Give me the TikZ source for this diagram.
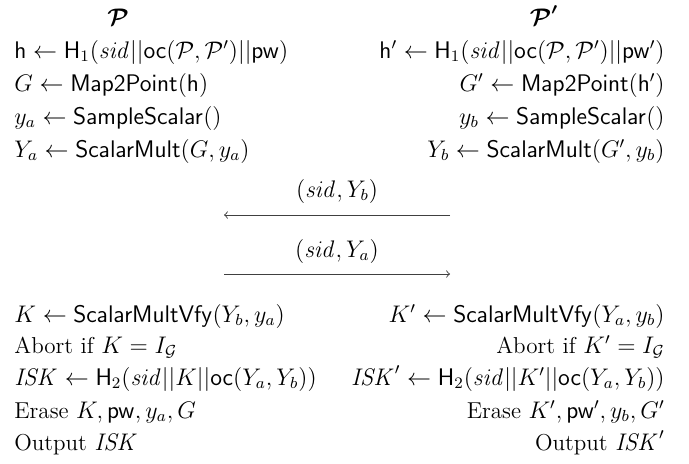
\documentclass[tikz,border=0pt]{standalone}
\usepackage{amsmath,amssymb,bm}
\newcommand{\sfn}[1]{\mathsf{#1}}
\newcommand{\PP}{\mathcal{P}}
\begin{document}
\begin{tikzpicture}[x=0.5pt,y=-0.5pt,
  txt/.style={inner sep=0pt,font=\fontsize{11.5}{14}\selectfont},
  lft/.style={txt,anchor=base west},
  rgt/.style={txt,anchor=base east},
  hdr/.style={txt,anchor=base},
  msg/.style={draw=black!75,line width=0.45pt,-to}]
\useasboundingbox (0,0) rectangle (689,463);
% headers
\node[hdr] (hP) at (118,25) {$\bm{\mathcal{P}}$};
\node[hdr] (hQ) at (544,25) {$\bm{\mathcal{P}'}$};
% left top
\node[lft] (l1) at (14,58) {$\sfn{h} \leftarrow \sfn{H}_1(\mathit{sid}||\sfn{oc}(\PP,\PP')||\sfn{pw})$};
\node[lft] (l2) at (14,91) {$G \leftarrow \sfn{Map2Point}(\sfn{h})$};
\node[lft] (l3) at (14,124) {$y_a \leftarrow \sfn{SampleScalar}()$};
\node[lft] (l4) at (14,157) {$Y_a \leftarrow \sfn{ScalarMult}(G, y_a)$};
% right top
\node[rgt] (r1) at (665,58) {$\sfn{h}' \leftarrow \sfn{H}_1(\mathit{sid}||\sfn{oc}(\PP,\PP')||\sfn{pw}')$};
\node[rgt] (r2) at (665,91) {$G' \leftarrow \sfn{Map2Point}(\sfn{h}')$};
\node[rgt] (r3) at (665,124) {$y_b \leftarrow \sfn{SampleScalar}()$};
\node[rgt] (r4) at (665,157) {$Y_b \leftarrow \sfn{ScalarMult}(G', y_b)$};
% messages
\node[hdr] (m1) at (337,197) {$(\mathit{sid}, Y_b)$};
\coordinate (m1L) at (224,215);
\coordinate (m1R) at (450,215);
\draw[msg] (m1R) -- (m1L);
\node[hdr] (m2) at (337,257) {$(\mathit{sid}, Y_a)$};
\coordinate (m2L) at (224,274);
\coordinate (m2R) at (450,274);
\draw[msg] (m2L) -- (m2R);
% left bottom
\node[lft] (l5) at (14,322) {$K \leftarrow \sfn{ScalarMultVfy}(Y_b, y_a)$};
\node[lft] (l6) at (14,353) {Abort if $K = I_{\mathcal{G}}$};
\node[lft] (l7) at (14,385) {$\mathit{ISK} \leftarrow \sfn{H}_2(\mathit{sid}||K||\sfn{oc}(Y_a,Y_b))$};
\node[lft] (l8) at (14,418) {Erase $K, \sfn{pw}, y_a, G$};
\node[lft] (l9) at (14,450) {Output $\mathit{ISK}$};
% right bottom
\node[rgt] (r5) at (665,322) {$K' \leftarrow \sfn{ScalarMultVfy}(Y_a, y_b)$};
\node[rgt] (r6) at (665,353) {Abort if $K' = I_{\mathcal{G}}$};
\node[rgt] (r7) at (665,385) {$\mathit{ISK}' \leftarrow \sfn{H}_2(\mathit{sid}||K'||\sfn{oc}(Y_a,Y_b))$};
\node[rgt] (r8) at (665,418) {Erase $K', \sfn{pw}', y_b, G'$};
\node[rgt] (r9) at (665,450) {Output $\mathit{ISK}'$};
\end{tikzpicture}
\end{document}
